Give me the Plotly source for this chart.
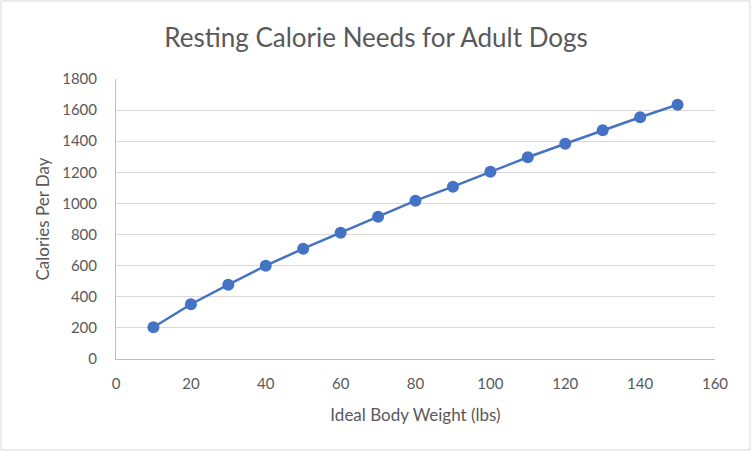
import plotly.graph_objects as go

weights = [10, 20, 30, 40, 50, 60, 70, 80, 90, 100, 110, 120, 130, 140, 150]
calories = [204, 352, 478, 600, 709, 812, 915, 1018, 1108, 1204, 1297, 1384, 1470, 1554, 1635]
x_ticks = [0, 20, 40, 60, 80, 100, 120, 140, 160]
y_ticks = [0, 200, 400, 600, 800, 1000, 1200, 1400, 1600, 1800]

W, H = 752, 452
L, R, T, B = 116, 37, 79, 93
pw, ph = W - L - R, H - T - B

font = "Lato, 'Open Sans', sans-serif"

fig = go.Figure()
fig.add_trace(go.Scatter(
    x=weights, y=calories, mode="lines+markers",
    line=dict(color="#4472C4", width=2.5),
    marker=dict(color="#4472C4", size=12),
    showlegend=False,
))

fig.update_layout(
    width=W, height=H,
    margin=dict(l=L, r=R, t=T, b=B, autoexpand=False),
    paper_bgcolor="white", plot_bgcolor="white",
    title=dict(text="Resting Calorie Needs for Adult Dogs", x=0.5, xref="container",
               xanchor="center", y=1 - 38 / H, yanchor="middle",
               font=dict(family=font, size=26, color="#595959")),
    font=dict(family=font, color="#595959", size=15),
    xaxis=dict(range=[0, 160], tickvals=x_ticks, showgrid=False, automargin=False,
               showline=True, linecolor="#BFBFBF", linewidth=1,
               zeroline=False, ticks="", ticklabelstandoff=11,
               title=dict(text="Ideal Body Weight (lbs)", font=dict(size=17, color="#595959"), standoff=18),
               tickfont=dict(size=15, color="#595959")),
    yaxis=dict(range=[0, 1800], tickvals=y_ticks, showgrid=True, gridcolor="#D9D9D9", automargin=False,
               gridwidth=1, showline=True, linecolor="#BFBFBF", linewidth=1,
               zeroline=False, ticks="", ticklabelstandoff=15,
               title=dict(text="Calories Per Day", font=dict(size=17, color="#595959"), standoff=8),
               tickfont=dict(size=15, color="#595959")),
    shapes=[dict(type="rect", xref="paper", yref="paper",
                 x0=(1 - L) / pw, x1=(750 - L) / pw,
                 y0=(H - B - 450) / ph, y1=(H - B - 1) / ph,
                 line=dict(color="#D9D9D9", width=1), fillcolor="rgba(0,0,0,0)", layer="below")],
)

fig.write_html("out.html", config={"displayModeBar": False},
               post_script="document.body.style.margin='0';document.body.style.overflow='hidden';")
